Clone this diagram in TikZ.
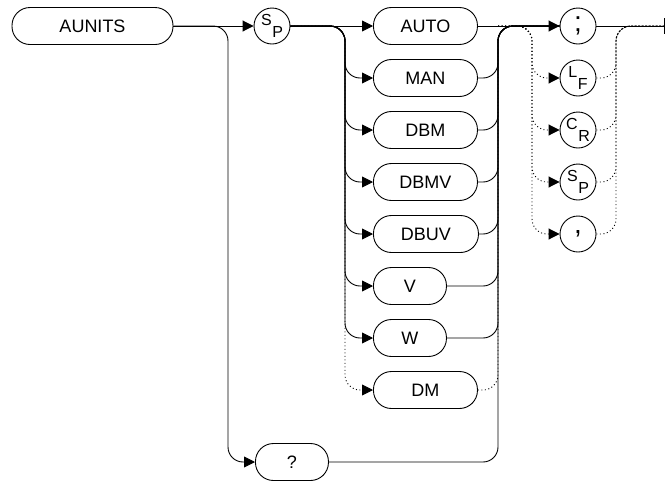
\documentclass[tikz,border=0pt]{standalone}
\usepackage{fontspec}
\setmainfont{Liberation Sans}
\usetikzlibrary{arrows.meta}

\newcommand{\sublet}[2]{\raisebox{0.3em}{#1}\kern0.5pt\raisebox{-0.45em}{#2}}

\tikzset{
  kw/.style={draw, rounded corners=18pt, minimum height=37pt, inner sep=0pt, font=\fontsize{18}{21}\selectfont},
  term/.style={draw, circle, minimum size=36pt, inner sep=0pt, font=\fontsize{16}{18}\selectfont},
  punct/.style={term, font=\fontsize{28}{30}\selectfont},
  arr/.style={-{Triangle[length=11pt,width=11pt]}},
  dots/.style={dash pattern=on 1pt off 2.5pt}
}

\begin{document}
\begin{tikzpicture}[x=1pt,y=-1pt,line width=0.9pt,rounded corners=15pt]
            \useasboundingbox (0,0) rectangle (667,480);
            \node[kw, minimum width=161] (aunits) at (92.5,26) {AUNITS};
            \node[term] (sp) at (272,26) {\sublet{S}{P}};
            \node[kw, minimum width=104, anchor=west] (auto) at (373,26) {AUTO};
            \foreach \nm/\txt/\row/\bw in {man/MAN/78/104, dbm/DBM/130/104, dbmv/DBMV/182/104, dbuv/DBUV/234/105, v/V/286/73, w/W/338/73, dm/DM/390/104}
                {\node[kw, minimum width=\bw, anchor=west] (\nm) at (373,\row) {\txt};}
            \node[kw, minimum width=73, anchor=west] (query) at (255,462) {?};

            \node[punct] (semi) at (578,26) {;};
            \foreach \nm/\a/\b/\row in {lf/L/F/78, cr/C/R/130, spb/S/P/182}
                {\node[term] (\nm) at (578,\row) {\sublet{\a}{\b}};}
            \node[punct] (comma) at (578,234) {,};

            \coordinate (qbar) at (228,26);
            \coordinate (lbar) at (345,26);
            \coordinate (rbar) at (498,26);
            \coordinate (tl) at (532,26);
            \coordinate (tr) at (616,26);
            \coordinate (fin) at (665,26);

            \draw[arr] (aunits.east) -- (sp.west);
            \draw[arr] (aunits.east) -- (qbar) |- (query.west);
            \draw[arr] (sp.east) -- (auto.west);
            \draw[arr,dots] (sp.east) -- (lbar) |- (dm.west);
            \draw[dots] (dm.east) -| (rbar) -- (semi.west);
            \foreach \nm in {man,dbm,dbmv,dbuv,v,w}
                {
                    \draw[arr] (sp.east) -- (lbar) |- (\nm.west);
                    \draw (\nm.east) -| (rbar) -- (semi.west);
                }
            \draw (query.east) -| (rbar) -- (semi.west);
            \draw[arr] (auto.east) -- (semi.west);
            \draw[-{Bar[width=16pt]}] (semi.east) -- (fin);
            \foreach \nm in {lf,cr,spb,comma}
                {
                    \draw[arr,dots] (rbar) -- (tl) |- (\nm.west);
                    \draw[dots] (\nm.east) -| (tr) -- (fin);
                }
        \end{tikzpicture}
\end{document}
